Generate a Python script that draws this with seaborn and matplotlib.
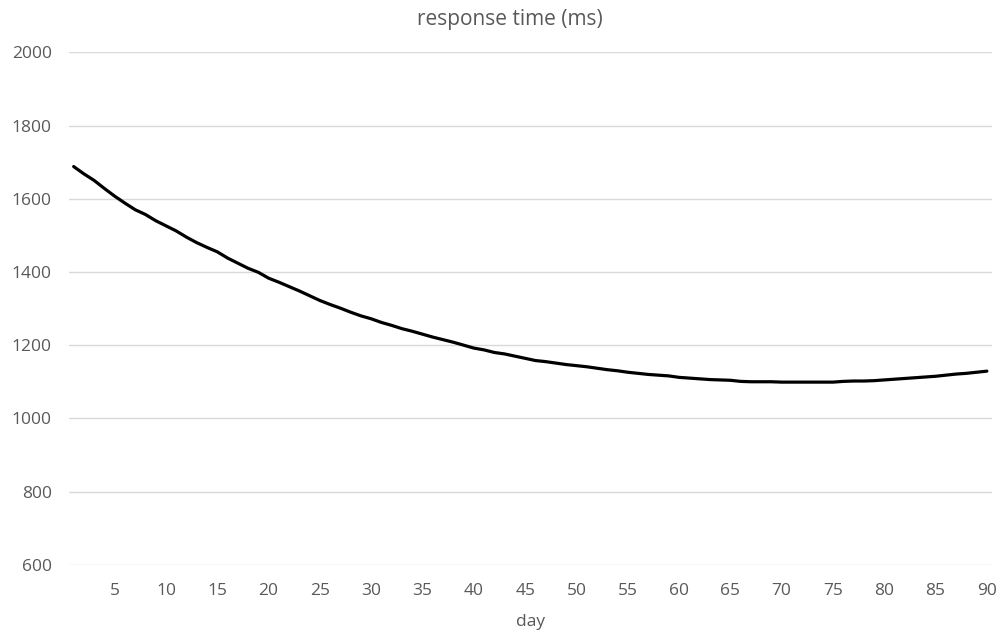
import numpy as np
import pandas as pd
import matplotlib
matplotlib.use("Agg")
import matplotlib.pyplot as plt
import seaborn as sns

days = list(range(1, 91))
response_ms = [
    1688, 1668, 1650, 1628, 1607, 1588, 1570, 1557, 1540, 1526,
    1512, 1495, 1480, 1467, 1455, 1438, 1424, 1410, 1399, 1383,
    1372, 1360, 1348, 1335, 1322, 1311, 1301, 1290, 1280, 1272,
    1262, 1254, 1245, 1238, 1230, 1222, 1215, 1208, 1200, 1192,
    1187, 1180, 1176, 1170, 1164, 1158, 1155, 1151, 1147, 1144,
    1141, 1137, 1133, 1130, 1126, 1123, 1120, 1118, 1116, 1112,
    1110, 1108, 1106, 1105, 1104, 1101, 1100, 1100, 1100, 1099,
    1099, 1099, 1099, 1099, 1099, 1101, 1102, 1102, 1103, 1105,
    1107, 1109, 1111, 1113, 1115, 1118, 1121, 1123, 1126, 1129,
]
x_ticks = list(range(5, 91, 5))
y_ticks = list(range(600, 2001, 200))

df = pd.DataFrame({"day": days, "response time (ms)": response_ms})

sns.set_style("white")
plt.rcParams["font.family"] = ["Open Sans", "DejaVu Sans"]

fig = plt.figure(figsize=(9.99, 6.31), dpi=100)
ax = fig.add_axes([0.0686, 0.105, 0.9244, 0.812])

sns.lineplot(data=df, x="day", y="response time (ms)", ax=ax,
             color="black", linewidth=2.3)

ax.set_xlim(0.5, 90.5)
ax.set_ylim(600, 2000)
ax.set_xticks(x_ticks)
ax.set_yticks(y_ticks)
ax.grid(axis="y", color="#d9d9d9", linewidth=1.0)
ax.grid(axis="x", visible=False)
ax.set_axisbelow(True)
for s in ax.spines.values():
    s.set_visible(False)

tick_color = "#595959"
ax.tick_params(axis="both", length=0, labelsize=12.5, labelcolor=tick_color)
ax.tick_params(axis="x", pad=13.5)
ax.tick_params(axis="y", pad=12)

ax.set_xlabel("day", fontsize=12.5, color=tick_color, labelpad=10.5)
ax.set_ylabel("")

# chart title, centred on the whole chart area
fig.text(510 / 999, 1 - 20 / 631, "response time (ms)", fontsize=15,
         color=tick_color, ha="center", va="center")

fig.savefig("out.png", dpi=100)
